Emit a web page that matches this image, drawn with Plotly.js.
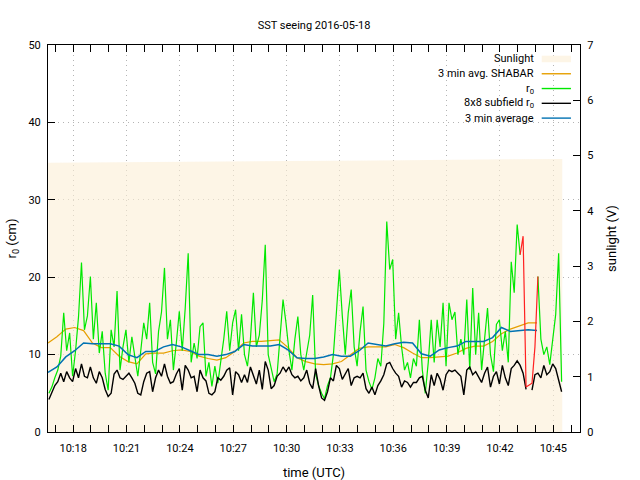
<!DOCTYPE html>
<html><head><meta charset="utf-8">
<script src="https://cdn.plot.ly/plotly-3.0.1.min.js"></script>
<style>html,body{margin:0;padding:0;background:#fff}</style>
</head><body><div id="chart" style="width:640px;height:480px"></div>
<script>
const day = '2016-05-18';

// r0 samples (cm), every 10 s from 10:16:38
const r0Start = '10:16:38';
const r0StepSec = 10;
const r0Values = [
 5.0, 5.8, 7.0, 8.0, 9.8, 15.4, 10.5, 12.8, 7.2, 10.5, 14.9, 21.9, 13.2, 15.0, 20.1, 12.0, 16.7, 10.2, 13.0, 7.6, 5.4, 13.2, 11.0, 18.2, 8.0,
 11.0, 13.2, 9.0, 12.3, 10.0, 7.2, 10.5, 14.1, 12.0, 16.7, 9.0, 7.5, 13.0, 15.5, 21.2, 12.0, 14.5, 8.0, 11.5, 15.6, 10.5, 16.0, 23.1, 9.0, 11.5,
 9.5, 13.6, 14.1, 7.2, 9.0, 5.9, 8.5, 6.3, 9.0, 12.0, 15.6, 10.5, 14.1, 15.8, 10.5, 15.2, 10.0, 8.5, 12.0, 18.0, 11.0, 12.5, 17.0, 24.2, 10.0,
 8.0, 6.5, 7.5, 11.9, 17.1, 14.1, 10.5, 8.0, 12.0, 14.9, 10.0, 8.0, 10.5, 12.5, 17.7, 7.5, 6.0, 5.0, 4.3, 6.0, 7.0, 10.0, 15.4, 21.0,
 15.0, 10.0, 15.4, 18.4, 11.0, 8.5, 13.0, 16.2, 8.0, 6.5, 5.5, 7.0, 9.5, 8.5, 14.0, 27.2, 21.0, 22.3, 12.0, 15.4, 11.0, 8.0, 9.0, 7.0, 9.5,
 8.5, 14.5, 8.0, 5.0, 9.0, 14.5, 9.0, 14.5, 11.0, 16.7, 8.5, 16.7, 14.5, 15.5, 10.0, 12.0, 10.0, 17.1, 8.0, 18.6, 10.0, 15.4, 8.0, 12.0, 16.0,
 10.0, 7.8, 13.9, 14.5, 10.5, 13.0, 9.0, 22.0, 18.0, 26.8, 22.9, null, null, null, null, null, 20.1, 12.0, 10.0, 11.0, 8.7, 12.0, 15.2, 23.1, 6.5
];

// 8x8 subfield r0 (cm), same sampling
const subfieldR0 = [
 4.2, 5.0, 6.0, 6.5, 7.6, 6.5, 7.8, 7.0, 6.5, 8.2, 7.0, 8.8, 7.2, 7.0, 8.4, 7.0, 6.3, 7.8, 7.0, 5.5, 4.6, 5.0, 7.5, 8.0, 7.0,
 6.8, 7.2, 7.6, 7.0, 6.3, 5.0, 4.8, 6.5, 7.6, 7.8, 5.2, 7.0, 8.0, 7.2, 8.8, 7.2, 6.3, 6.5, 7.5, 8.2, 5.4, 8.6, 8.0, 7.0, 7.2,
 5.2, 8.0, 7.0, 6.6, 5.0, 4.8, 5.2, 7.0, 6.7, 7.2, 8.0, 8.3, 4.8, 7.8, 7.4, 6.4, 7.4, 6.4, 8.4, 7.2, 6.2, 8.0, 5.5, 9.1, 8.0,
 5.6, 6.0, 7.2, 7.6, 8.4, 7.8, 8.4, 7.4, 7.0, 7.2, 6.6, 7.0, 8.0, 6.3, 5.6, 8.2, 6.0, 4.4, 4.1, 5.2, 7.0, 6.6, 8.6, 8.2,
 6.8, 7.6, 8.2, 6.0, 7.0, 7.2, 7.0, 7.6, 5.6, 5.0, 5.8, 4.8, 6.0, 6.6, 7.4, 8.8, 9.0, 8.2, 7.6, 7.2, 5.8, 6.6, 6.4, 5.8, 6.4,
 6.4, 7.0, 7.2, 5.4, 4.4, 7.4, 6.0, 7.6, 6.8, 5.4, 7.4, 8.0, 7.8, 8.0, 7.6, 7.2, 4.8, 8.0, 8.4, 7.4, 7.8, 7.0, 6.4, 7.6, 8.4,
 5.8, 7.2, 7.8, 6.2, 8.6, 7.0, 6.0, 8.2, 8.6, 9.2, 8.6, 7.6, 5.5, null, 5.4, 7.4, 7.6, 7.0, 8.6, 7.4, 7.8, 8.8, 8.2, 6.5, 5.2
];

// flagged r0 section (drawn red), starts at sample index 159
const flaggedStartIndex = 159;
const flaggedR0 = [22.9, 25.3, 5.8, 6.0, 6.3, 11.0, 20.1];

// 3-minute running averages (cm), every 30 s from 10:16:35
const avgStart = '10:16:35';
const avgStepSec = 30;
const avg3min = [
 7.7, 8.4, 9.7, 10.5, 11.5, 11.4, 11.4, 11.4, 11.1, 10.0,
 9.6, 10.4, 10.4, 11.0, 11.3, 11.0, 10.5, 10.0, 10.0, 9.8,
 10.0, 10.4, 11.3, 11.1, 11.1, 11.1, 11.3, 10.6, 9.6, 9.5,
 9.5, 9.7, 10.0, 9.8, 9.8, 10.5, 11.5, 11.3, 11.1, 11.4,
 11.6, 11.5, 10.1, 9.8, 10.6, 10.9, 11.1, 11.7, 11.7, 11.7,
 12.2, 13.5, 13.0, 13.1, 13.2, 13.1
];
const shabar3min = [
 11.5, 12.3, 13.3, 13.5, 13.1, 11.5, 10.9, 10.9, 9.8, 9.1,
 8.8, 10.1, 10.2, 10.2, 10.5, 10.6, 10.4, 9.8, 9.5, 9.3,
 9.6, 10.4, 11.5, 11.7, 11.7, 11.8, 11.9, 10.9, 9.6, 9.1,
 8.8, 8.7, 8.8, 9.1, 10.0, 10.8, 11.0, 11.0, 11.0, 11.3,
 10.9, 10.2, 9.6, 9.6, 9.7, 9.8, 10.2, 10.8, 11.1, 11.1,
 11.7, 12.7, 13.3, 13.7, 14.1, 14.1
];

// sunlight (V)
const sunTimes = ['10:16:35', '10:20:00', '10:25:00', '10:30:00', '10:35:00', '10:40:00', '10:45:30'];
const sunVolts = [4.87, 4.88, 4.89, 4.90, 4.91, 4.92, 4.94];

function pad(n){ return (n < 10 ? '0' : '') + n; }
function toSec(hms){ const p = hms.split(':').map(Number); return p[0]*3600 + p[1]*60 + p[2]; }
function fmt(sec){ const h = Math.floor(sec/3600), m = Math.floor((sec%3600)/60), s = Math.round(sec%60); return day + ' ' + pad(h) + ':' + pad(m) + ':' + pad(s); }
function grid(start, step, n, offset){ const s0 = toSec(start); const out = []; for (let i = 0; i < n; i++) out.push(fmt(s0 + (i + (offset||0))*step)); return out; }

const r0Times = grid(r0Start, r0StepSec, r0Values.length);
const subTimes = grid(r0Start, r0StepSec, subfieldR0.length);
const flaggedTimes = grid(r0Start, r0StepSec, flaggedR0.length, flaggedStartIndex);
const avgTimes = grid(avgStart, avgStepSec, avg3min.length);
const shabarTimes = grid(avgStart, avgStepSec, shabar3min.length);
const sunX = sunTimes.map(t => day + ' ' + t);

const colors = {sun:'#fdf5e6', shabar:'#e69f00', r0:'#00e800', sub:'#000000', avg:'#0072b2', flag:'#ff2020'};

const traces = [
 {x: sunX, y: sunVolts, yaxis:'y', type:'scatter', mode:'lines', fill:'tozeroy', fillcolor:'rgba(252,238,213,0.6)', line:{width:0, color:'rgba(0,0,0,0)'}, hoverinfo:'skip', showlegend:false},
 {x: shabarTimes, y: shabar3min, yaxis:'y2', type:'scatter', mode:'lines', line:{color:colors.shabar, width:1.2}, showlegend:false},
 {x: r0Times, y: r0Values, yaxis:'y2', type:'scatter', mode:'lines', line:{color:colors.r0, width:1.2}, connectgaps:false, showlegend:false},
 {x: subTimes, y: subfieldR0, yaxis:'y2', type:'scatter', mode:'lines', line:{color:colors.sub, width:1.4}, connectgaps:false, showlegend:false},
 {x: avgTimes, y: avg3min, yaxis:'y2', type:'scatter', mode:'lines', line:{color:colors.avg, width:1.5}, showlegend:false},
 {x: flaggedTimes, y: flaggedR0, yaxis:'y2', type:'scatter', mode:'lines', line:{color:colors.flag, width:1.2}, showlegend:false}
];

// legend (gnuplot style: text right, sample on the right)
const legendItems = [
 {text:'Sunlight', kind:'box', color:colors.sun},
 {text:'3 min avg. SHABAR', kind:'line', color:colors.shabar},
 {text:'r<sub>0</sub>', kind:'line', color:colors.r0},
 {text:'8x8 subfield r<sub>0</sub>', kind:'line', color:colors.sub},
 {text:'3 min average', kind:'line', color:colors.avg}
];
const legTop = 0.9639, legStep = 0.0382, legTextX = 0.9173, legX0 = 0.928, legX1 = 0.983;
const annotations = [], shapes = [];
legendItems.forEach((it, i) => {
 const yy = legTop - i*legStep;
 annotations.push({xref:'paper', yref:'paper', x:legTextX, y:yy, xanchor:'right', yanchor:'middle', text:it.text, showarrow:false, font:{size:11, color:'#000'}});
 if (it.kind === 'box') shapes.push({type:'rect', xref:'paper', yref:'paper', x0:legX0, x1:legX1, y0:yy-0.0085, y1:yy+0.0085, fillcolor:it.color, line:{width:0}});
 else shapes.push({type:'line', xref:'paper', yref:'paper', x0:legX0, x1:legX1, y0:yy, y1:yy, line:{color:it.color, width:1.4}});
});

const gridStyle = {showgrid:true, gridcolor:'#b4b4b4', griddash:'1px,4px', gridwidth:1};

const layout = {
 width:640, height:480,
 margin:{l:48, r:60, t:45, b:48, pad:0},
 paper_bgcolor:'#fff', plot_bgcolor:'#fff',
 font:{family:'Roboto, sans-serif', size:11, color:'#000'},
 showlegend:false,
 title:{text:'SST seeing 2016-05-18', x:0.5, xref:'paper', xanchor:'center', y:1-25/480, yref:'container', yanchor:'middle', font:{size:11}},
 xaxis:Object.assign({type:'date', range:[day+' 10:16:35', day+' 10:46:30'], tick0:day+' 10:18:00', dtick:180000, tickformat:'%H:%M',
  ticks:'inside', ticklen:7, tickcolor:'#000', tickwidth:1,
  minor:{dtick:60000, tick0:day+' 10:18:00', ticks:'inside', ticklen:4, tickcolor:'#000', showgrid:false},
  showline:true, linecolor:'#000', linewidth:1, mirror:'allticks', zeroline:false,
  ticklabelstandoff:6,
  title:{text:'time (UTC)', standoff:13}, automargin:false}, gridStyle),
 yaxis:{range:[0,7], dtick:1, side:'right', ticks:'inside', ticklen:7, tickcolor:'#000', showline:true, linecolor:'#000', linewidth:1,
  showgrid:false, zeroline:false, ticklabelstandoff:4, title:{text:'sunlight (V)', standoff:14}, automargin:false},
 yaxis2:Object.assign({range:[0,50], dtick:10, overlaying:'y', side:'left', ticks:'inside', ticklen:7, tickcolor:'#000', showline:true, linecolor:'#000', linewidth:1,
  zeroline:false, ticklabelstandoff:4,
  title:{text:'r<sub>0</sub> (cm)', standoff:8}, automargin:false}, gridStyle),
 annotations: annotations,
 shapes: shapes
};

Plotly.newPlot('chart', traces, layout, {displayModeBar:false, staticPlot:true});
</script>
</body></html>
